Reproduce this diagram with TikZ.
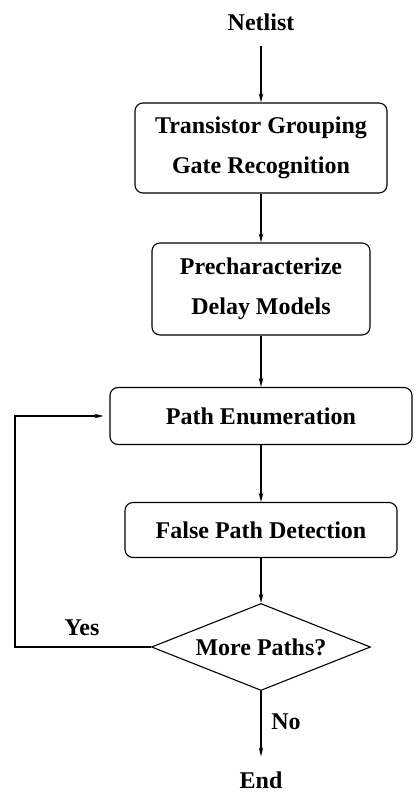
\documentclass[tikz,border=0pt]{standalone}
\usepackage{fontspec}
\setmainfont{Liberation Serif}
\usepackage{tikz}
\usetikzlibrary{shapes.geometric,arrows.meta}

\begin{document}
\begin{tikzpicture}[x=1pt,y=-1pt]
\tikzset{every node/.style={font=\fontsize{24}{40}\selectfont\bfseries, align=center}}
\tikzset{box style/.style={draw, rounded corners=8pt, line width=1.1pt, inner sep=0pt}}
\tikzset{dec style/.style={draw, diamond, aspect=2.5, line width=1.1pt, inner sep=0pt}}
\tikzset{term style/.style={inner sep=15pt}}
\tikzset{arr style/.style={-{Stealth[length=9pt,width=4.5pt]}, line width=1.1pt}}
%\tikzset{lbl style/.style={font=\small}}
\useasboundingbox (0,0) rectangle (416,792);

\node[term style](Net) at (261,22){Netlist};
\node[box style, minimum width=252pt, minimum height=90pt](TG) at (261,148){Transistor Grouping\\Gate Recognition};
\node[box style, minimum width=218pt, minimum height=92pt](PC) at (261,289){Precharacterize\\Delay Models};
\node[box style, minimum width=302pt, minimum height=57pt](PE) at (261,416){Path Enumeration};
\node[box style, minimum width=272pt, minimum height=55pt](FP) at (261,530){False Path Detection};
\node[dec style, minimum width=219pt, minimum height=87pt](MP) at (261,647){More Paths?};
\node[term style](End) at (261,780){End};
\node(Y) at (82,628){Yes};
\node(No) at (286,722){No};
\coordinate (back) at (15,416);

\draw[arr style] (Net) -- (TG);
\draw[arr style] (TG) -- (PC);
\draw[arr style] (PC) -- (PE);
\draw[arr style] (PE) -- (FP);
\draw[arr style] (FP) -- (MP);
\draw[arr style] (MP) -- (End);
\draw[arr style, shorten >=6pt] (MP.west) -| (back) |- (PE.west);
\end{tikzpicture}
\end{document}
